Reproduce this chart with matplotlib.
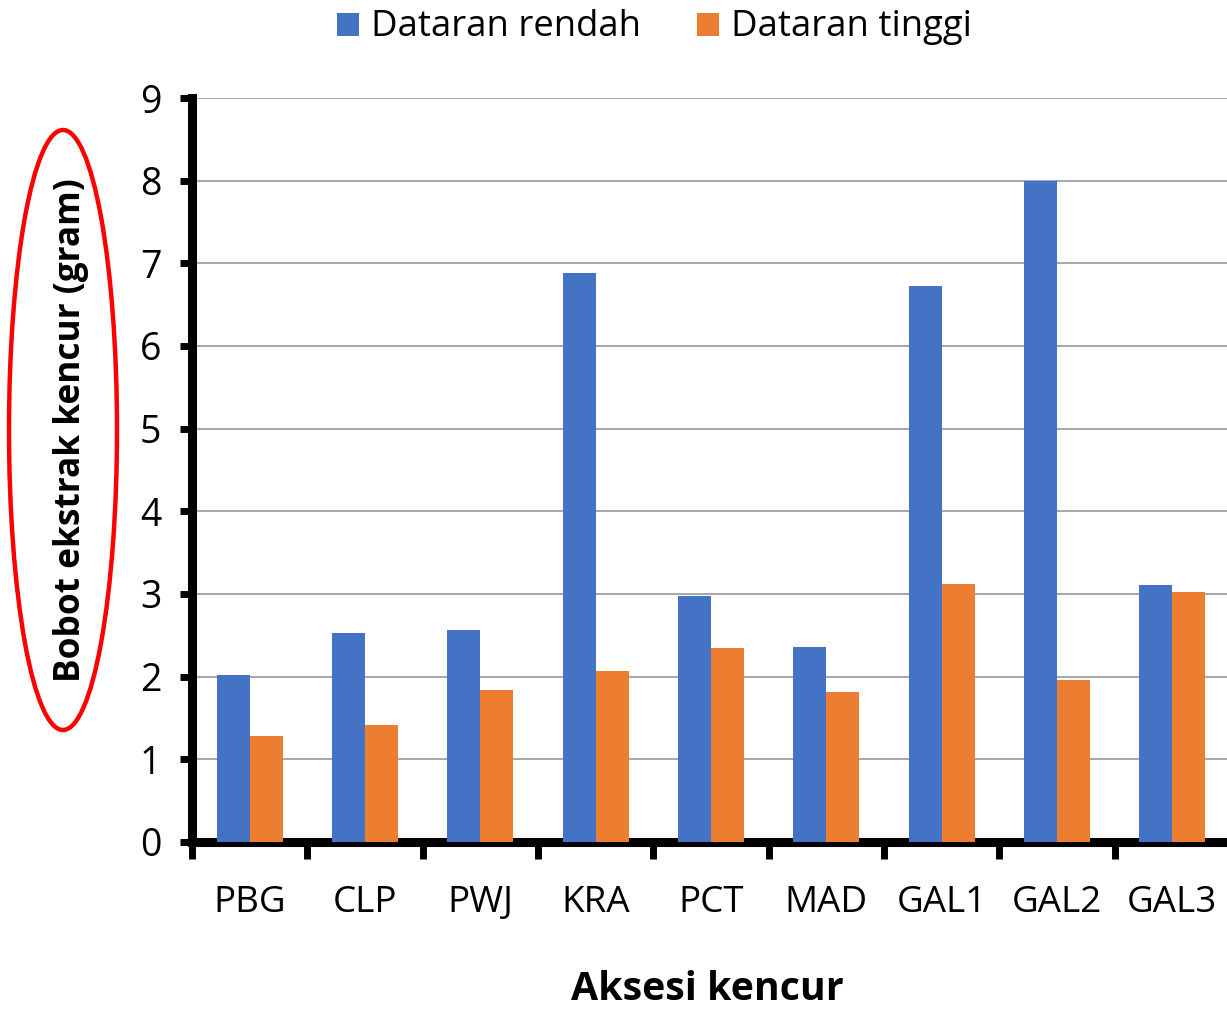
import matplotlib
matplotlib.use("Agg")
import matplotlib.pyplot as plt
import numpy as np
from matplotlib.patches import Ellipse, Rectangle
from matplotlib.ticker import FixedLocator, NullFormatter

categories = ["PBG", "CLP", "PWJ", "KRA", "PCT", "MAD", "GAL1", "GAL2", "GAL3"]
rendah = [2.02, 2.53, 2.57, 6.88, 2.98, 2.36, 6.72, 7.99, 3.11]
tinggi = [1.28, 1.42, 1.84, 2.07, 2.35, 1.81, 3.12, 1.96, 3.02]
series_names = ["Dataran rendah", "Dataran tinggi"]
yticks = list(range(0, 10))

plt.rcParams['font.family'] = ['Open Sans', 'DejaVu Sans']

W, H = 1227, 1010
fig = plt.figure(figsize=(W/100, H/100), dpi=100)
x0, x1, y0, y1 = 192, 1230, 842, 98
ax = fig.add_axes([x0/W, (H-y0)/H, (x1-x0)/W, (y0-y1)/H])

x = np.arange(len(categories))
bw = 0.286
blue, orange = "#4472C4", "#ED7D31"
ax.bar(x - bw/2, rendah, bw, color=blue, zorder=3)
ax.bar(x + bw/2, tinggi, bw, color=orange, zorder=3)

ax.set_xlim(-0.5, len(categories) - 0.5)
ax.set_ylim(0, 9)
ax.set_yticks(yticks)
ax.yaxis.grid(True, color="#A0A0A0", linewidth=1.3, zorder=0)
ax.set_axisbelow(True)

ax.set_xticks(x)
ax.set_xticklabels(categories, fontsize=26.5)
ax.tick_params(axis='x', which='major', length=0, pad=31)
ax.xaxis.set_minor_locator(FixedLocator(np.arange(-0.5, len(categories), 1.0)))
ax.xaxis.set_minor_formatter(NullFormatter())
ax.tick_params(axis='x', which='minor', length=12, width=5, direction='out', color='black')
ax.tick_params(axis='y', length=9, width=5, direction='out', labelsize=27, pad=13)

for s in ['top', 'right']:
    ax.spines[s].set_visible(False)
for s in ['left', 'bottom']:
    ax.spines[s].set_linewidth(6.5)
    ax.spines[s].set_color('black')

fig.text(707/W, 1 - 990/H, "Aksesi kencur", ha='center', va='center', fontsize=28.3, fontweight='bold')
fig.text(71/W, 1 - 430/H, "Bobot ekstrak kencur (gram)", ha='center', va='center',
         rotation=90, fontsize=25.4, fontweight='bold')

# red ellipse annotation
ell = Ellipse((63/W, 1 - 430/H), 108/W, 600/H, transform=fig.transFigure,
              fill=False, edgecolor='red', linewidth=3.2)
fig.add_artist(ell)

# legend
for (sx, tx, col, name) in [(337, 371, blue, series_names[0]), (697, 731, orange, series_names[1])]:
    fig.add_artist(Rectangle((sx/W, 1 - 36/H), 22/W, 23/H, transform=fig.transFigure,
                             facecolor=col, edgecolor='none'))
    fig.text(tx/W, 1 - 27/H, name, ha='left', va='center', fontsize=26.3)

fig.savefig("out.png", dpi=100)
